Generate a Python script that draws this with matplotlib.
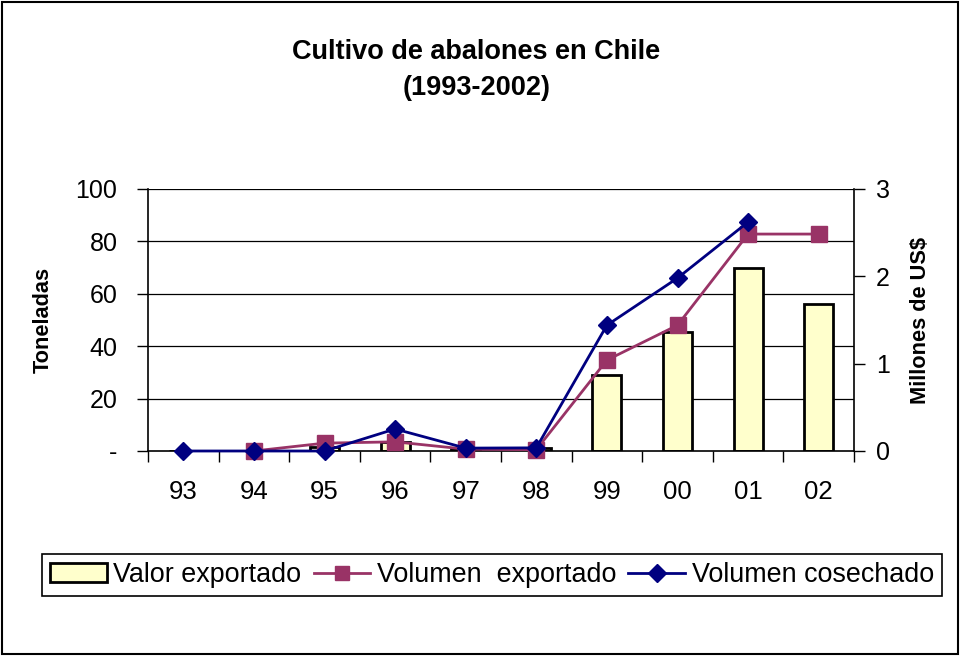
import matplotlib
matplotlib.use("Agg")
import matplotlib.pyplot as plt
from matplotlib.patches import Rectangle, Patch
from matplotlib.lines import Line2D
import numpy as np

plt.rcParams['font.family'] = ['Liberation Sans', 'DejaVu Sans']

categories = ["93", "94", "95", "96", "97", "98", "99", "00", "01", "02"]
valor_exportado = [0.0, 0.0, 0.05, 0.10, 0.02, 0.03, 0.87, 1.36, 2.10, 1.68]  # Millones US$
volumen_exportado = [np.nan, 0.0, 3.0, 3.5, 0.7, 0.5, 34.7, 48.0, 82.8, 82.8]  # Toneladas
volumen_cosechado = [0.0, 0.0, 0.0, 8.4, 1.1, 1.2, 48.0, 66.0, 87.4, np.nan]  # Toneladas
left_ticks = [0, 20, 40, 60, 80, 100]
left_labels = ["-", "20", "40", "60", "80", "100"]
right_ticks = [0, 1, 2, 3]

C_EXP = "#993366"
C_COS = "#000080"
C_BAR = "#FFFFCC"

fig = plt.figure(figsize=(9.6, 6.56), dpi=100)
ax = fig.add_axes([148/960, 1-451/656, (854-148)/960, (451-189)/656])
x = np.arange(len(categories))
ax2 = ax.twinx()

# bars on the primary axes (right scale)
ax.set_ylim(0, 3)
ax.set_xlim(-0.5, len(categories) - 0.5)
grid_vals = [t * 3 / 100 for t in left_ticks[1:]]
ax.hlines(grid_vals, -0.5, len(categories) - 0.5, colors="black", lw=0.9, zorder=1)
ax.bar(x, valor_exportado, width=0.41, color=C_BAR, edgecolor="black", linewidth=2, zorder=2)
ax.yaxis.tick_right()
ax.yaxis.set_label_position("right")
ax.set_yticks(right_ticks)
ax.set_yticklabels([str(t) for t in right_ticks])
ax.tick_params(axis="y", direction="out", length=8, width=1, pad=8, labelsize=18, colors="black")
ax.set_ylabel("Millones de US$", fontsize=15.7, fontweight="bold", labelpad=14)

ax.set_xticks(x)
ax.set_xticklabels(categories)
ax.set_xticks(np.arange(-0.5, len(categories)), minor=True)
ax.tick_params(axis="x", which="major", length=0, pad=21, labelsize=18.5)
ax.tick_params(axis="x", which="minor", direction="out", length=8, width=1)

# lines on twin axes (left scale)
ax2.set_ylim(0, 100)
ax2.yaxis.tick_left()
ax2.yaxis.set_label_position("left")
ax2.set_yticks(left_ticks)
ax2.set_yticklabels(left_labels)
ax2.tick_params(axis="y", direction="out", length=8, width=1, pad=14, labelsize=18)
ax2.set_ylabel("Toneladas", fontsize=15.7, fontweight="bold", labelpad=16)
ax2.plot(x, volumen_exportado, color=C_EXP, lw=2, marker="s", ms=11, zorder=3, clip_on=False)
ax2.plot(x, volumen_cosechado, color=C_COS, lw=2, marker="D", ms=9.5, zorder=4, clip_on=False)

for a in (ax, ax2):
    a.spines["top"].set_visible(False)
    for s in ("left", "right", "bottom"):
        a.spines[s].set_linewidth(1.2)
        a.spines[s].set_color("black")
ax.spines["left"].set_visible(False)
ax2.spines["right"].set_visible(False)
ax2.spines["bottom"].set_visible(False)
ax2.set_xlim(ax.get_xlim())

fig.text(0.496, 1 - 52/656, "Cultivo de abalones en Chile", ha="center", va="center",
         fontsize=19.5, fontweight="bold")
fig.text(0.496, 1 - 88/656, "(1993-2002)", ha="center", va="center",
         fontsize=19.5, fontweight="bold")

handles = [
    Patch(facecolor=C_BAR, edgecolor="black", linewidth=2),
    Line2D([], [], color=C_EXP, lw=2, marker="s", ms=10),
    Line2D([], [], color=C_COS, lw=2, marker="D", ms=9),
]
labels = ["Valor exportado", "Volumen  exportado", "Volumen cosechado"]
leg = fig.legend(handles, labels, loc="center", bbox_to_anchor=(492/960, 1 - 575/656), ncol=3,
                 frameon=True, fancybox=False, edgecolor="black", framealpha=1,
                 prop={"size": 19.4},
                 handlelength=2.1, handletextpad=0.25, columnspacing=0.45, borderpad=0.3,
                 borderaxespad=0)
leg.get_frame().set_linewidth(1.2)

fig.add_artist(Rectangle((0.002, 0.003), 0.996, 0.994, transform=fig.transFigure,
                         fill=False, edgecolor="black", lw=1.5))

fig.savefig("out.png", dpi=100)
